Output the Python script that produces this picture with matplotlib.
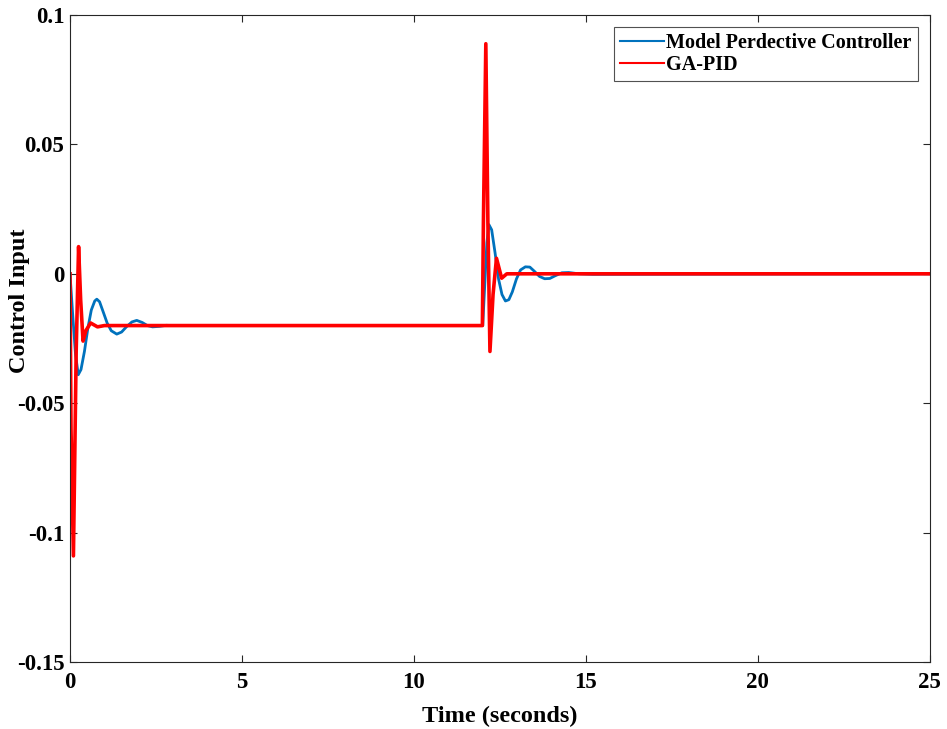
import numpy as np
import matplotlib.pyplot as plt

# values (time in s, control input)
t_mpc = [0, 0.08, 0.16, 0.24, 0.32, 0.42, 0.52, 0.62, 0.72, 0.78, 0.86, 0.96, 1.08, 1.2, 1.36,
         1.5, 1.64, 1.8, 1.94, 2.1, 2.25, 2.4, 2.6, 2.8, 3.0, 11.98,
         12.0, 12.06, 12.12, 12.18, 12.26, 12.36, 12.46, 12.56, 12.66, 12.76, 12.86, 12.98,
         13.1, 13.24, 13.37, 13.5, 13.65, 13.8, 13.95, 14.1, 14.3, 14.5, 14.8, 15.2, 25]
u_mpc = [0, -0.016, -0.031, -0.039, -0.037, -0.030, -0.021, -0.014, -0.0105, -0.0098, -0.0108,
         -0.0145, -0.019, -0.022, -0.0233, -0.0225, -0.0205, -0.0186, -0.018, -0.0188, -0.0200,
         -0.0205, -0.0203, -0.0199, -0.020, -0.020,
         -0.020, -0.004, 0.012, 0.019, 0.017, 0.008, -0.002, -0.008, -0.0105, -0.0100, -0.007,
         -0.002, 0.0015, 0.0027, 0.0026, 0.001, -0.001, -0.0019, -0.0018, -0.0008, 0.0004,
         0.0005, 0.0, -0.0002, 0.0]

t_pid = [0, 0.03, 0.1, 0.18, 0.25, 0.31, 0.38, 0.46, 0.6, 0.8, 1.0, 11.99,
         12.02, 12.09, 12.15, 12.21, 12.3, 12.4, 12.55, 12.7, 25]
u_pid = [0, -0.06, -0.109, -0.03, 0.0105, -0.01, -0.026, -0.022, -0.019, -0.0205, -0.020, -0.020,
         0.02, 0.0889, 0.02, -0.030, -0.008, 0.006, -0.0017, 0.0, 0.0]

plt.rcParams.update({
    "font.family": "Liberation Serif",
    "font.weight": "bold",
    "axes.labelweight": "bold",
})

fig = plt.figure(figsize=(9.47, 7.29), dpi=100)
ax = fig.add_axes([0.0739, 0.0919, 0.908, 0.8875])

ax.plot(t_mpc, u_mpc, color="#0072BD", lw=2.0, label="Model Perdective Controller")
ax.plot(t_pid, u_pid, color="#FF0000", lw=2.6, label="GA-PID")

ax.set_xlim(0, 25)
ax.set_ylim(-0.15, 0.1)
ax.set_xticks([0, 5, 10, 15, 20, 25])
ax.set_yticks([-0.15, -0.1, -0.05, 0, 0.05, 0.1])
ax.set_yticklabels(["-0.15", "-0.1", "-0.05", "0", "0.05", "0.1"])
ax.tick_params(direction="in", top=True, right=True, labelsize=16.5, length=5, width=0.8,
               colors="#262626")
ax.tick_params(axis="x", pad=7)
ax.tick_params(axis="y", pad=4)
for lab in ax.get_xticklabels() + ax.get_yticklabels():
    lab.set_fontweight("bold")
    lab.set_color("black")
for s in ax.spines.values():
    s.set_color("#262626")
    s.set_linewidth(0.8)

ax.set_xlabel("Time (seconds)", fontsize=17.5)
ax.xaxis.set_label_coords(0.5, -0.068)
ax.set_ylabel("Control Input", fontsize=17.5)
ax.yaxis.set_label_coords(-0.046, 0.558)

leg = ax.legend(loc="upper right", handlelength=2.2, handletextpad=0.1,
                borderpad=0.3, labelspacing=0.1, fancybox=False, borderaxespad=0.6,
                prop={"weight": "bold", "size": 14.5})
leg.get_frame().set_edgecolor("#262626")
leg.get_frame().set_linewidth(0.8)
for h in leg.get_lines():
    h.set_linewidth(1.5)

fig.savefig("out.png", dpi=100)
